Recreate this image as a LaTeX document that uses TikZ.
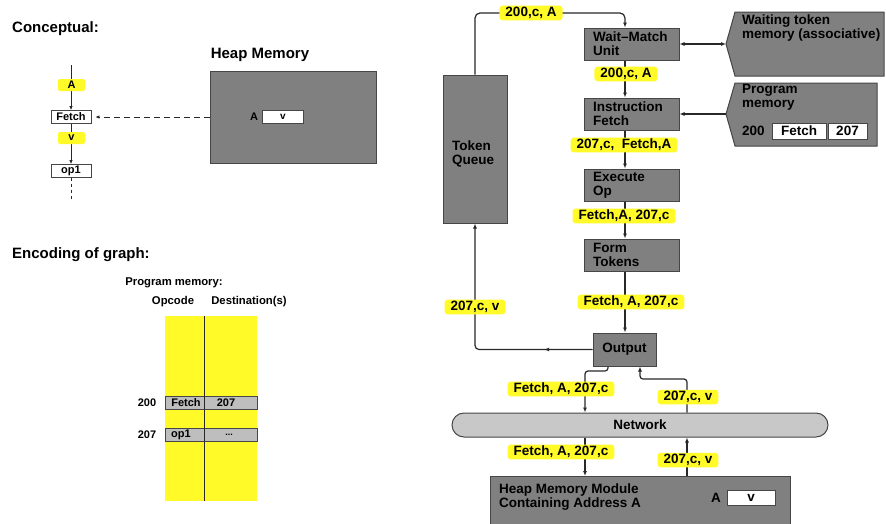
\documentclass[tikz,border=0pt]{standalone}
\usepackage{fontspec}
\setmainfont{Liberation Sans}
\usetikzlibrary{arrows.meta,decorations.markings,calc}
\definecolor{boxgray}{RGB}{128,128,128}
\definecolor{edgegray}{RGB}{70,70,70}
\definecolor{hlyellow}{RGB}{255,250,40}
\definecolor{netgray}{RGB}{200,200,200}
\definecolor{rowgray}{RGB}{190,190,190}
\definecolor{linecol}{RGB}{40,40,40}
\begin{document}
\begin{tikzpicture}[x=1pt,y=-1pt,
  line/.style={draw=linecol, line width=1.2pt},
  arr/.style={line, -{Latex[length=5pt,width=4pt]}},
  sarr/.style={draw=linecol, line width=1pt, -{Latex[length=4pt,width=3.5pt]}},
  gbox/.style={draw=edgegray, fill=boxgray, line width=1pt, inner sep=0pt},
  wbox/.style={draw=edgegray, fill=white, line width=0.8pt, inner sep=0pt},
  ptext/.style={font=\fontsize{13.5}{14}\bfseries\selectfont, align=left, inner sep=0pt},
  stext/.style={font=\fontsize{11.3}{13}\bfseries\selectfont, inner sep=0pt},
  ttext/.style={font=\fontsize{15}{17}\bfseries\selectfont, inner sep=0pt},
  ylab/.style={fill=hlyellow, rounded corners=3pt, inner xsep=6pt, inner ysep=1.5pt, font=\fontsize{13.5}{14}\bfseries\selectfont},
  cyl/.style={fill=hlyellow, rounded corners=2pt, inner sep=0pt, minimum width=27pt, minimum height=12pt, font=\fontsize{11}{12}\bfseries\selectfont},
  stage/.style={gbox, ptext, minimum width=95pt, minimum height=32pt, text width=77pt},
  midarrow/.style={postaction={decorate}, decoration={markings, mark=at position #1 with {\arrow{Latex[length=5pt,width=4pt]}}}}
]
\useasboundingbox[fill=white] (0,0) rectangle (886,523);

% ---------------- Conceptual ----------------
\node[ttext, anchor=west] (tconc) at (12,29) {Conceptual:};
\node[ttext] (theap) at (260,55) {Heap Memory};
\node[gbox, minimum width=166pt, minimum height=92pt] (heap) at (293,117) {};
\node[stext, font=\fontsize{11}{12}\bfseries\selectfont] (heapA) at (254,117) {A};
\node[wbox, minimum width=41pt, minimum height=13pt, font=\fontsize{10}{12}\bfseries\selectfont] (heapv) at (283,117) {v};

\coordinate (ctop) at (71,65);
\coordinate (cbot) at (71,200);
\node[wbox, minimum width=40pt, minimum height=13pt, font=\fontsize{11}{12}\bfseries\selectfont] (cf) at (71,117) {Fetch};
\node[wbox, minimum width=40pt, minimum height=13pt, font=\fontsize{11}{12}\bfseries\selectfont] (cop) at (71,171) {op1};
\draw[sarr] (ctop) -- (cf.north);
\draw[sarr] (cf.south) -- (cop.north);
\draw[draw=linecol, line width=1pt, dashed] (cop.south) -- (cbot);
\node[cyl] (la) at (71.5,85) {A};
\node[cyl] (lv) at (71.5,138) {v};
\draw[sarr, dash pattern=on 6pt off 4pt, shorten >=4pt] (heap.west) -- (cf.east);

% ---------------- Encoding ----------------
\node[ttext, anchor=west] (tenc) at (12,255) {Encoding of graph:};
\node[stext] (tpm) at (174,283) {Program memory:};
\node[stext] (topc) at (173,302) {Opcode};
\node[stext] (tdst) at (249,302) {Destination(s)};
\node[fill=hlyellow, minimum width=92pt, minimum height=185pt, inner sep=0pt] (pmem) at (211,408.5) {};
\node[draw=edgegray, fill=rowgray, line width=0.8pt, minimum width=92pt, minimum height=13pt, inner sep=0pt] (r1) at (211,402.5) {};
\node[draw=edgegray, fill=rowgray, line width=0.8pt, minimum width=92pt, minimum height=13pt, inner sep=0pt] (r2) at (211,435) {};
\coordinate (div) at (204,0);
\draw[draw=linecol, line width=1pt] (div |- pmem.north) -- (div |- pmem.south);
\node[stext, font=\fontsize{11}{12}\bfseries\selectfont] (a200) at (147,402.5) {200};
\node[stext, font=\fontsize{11}{12}\bfseries\selectfont] (r1a) at (186,402.5) {Fetch};
\node[stext, font=\fontsize{11}{12}\bfseries\selectfont] (r1b) at (226,402.5) {207};
\node[stext, font=\fontsize{11}{12}\bfseries\selectfont] (a207) at (147,435) {207};
\node[stext, font=\fontsize{11}{12}\bfseries\selectfont] (r2a) at (181,435) {op1};
\node[stext, font=\fontsize{9}{12}\bfseries\selectfont] (r2b) at (229,435) {...};

% ---------------- Pipeline ----------------
\node[gbox, minimum width=64pt, minimum height=148pt] (tq) at (475,149) {};
\node[ptext, anchor=west] (tqtext) at (452,154) {Token\\Queue};
\node[stage] (wm) at (631.5,44) {Wait--Match\\Unit};
\node[stage] (if) at (631.5,114) {Instruction\\Fetch};
\node[stage] (ex) at (631.5,185) {Execute\\Op};
\node[stage] (ft) at (631.5,255) {Form\\Tokens};
\node[gbox, ptext, minimum width=63pt, minimum height=33pt] (out) at (624.5,349.5) {Output};

\coordinate (cx) at (625,0);
\draw[arr, rounded corners=5pt] (tq.north) |- (cx |- 0,13) -- (cx |- wm.north);
\draw[arr] (cx |- wm.south) -- (cx |- if.north);
\draw[arr] (cx |- if.south) -- (cx |- ex.north);
\draw[arr] (cx |- ex.south) -- (cx |- ft.north);
\draw[arr] (cx |- ft.south) -- (cx |- out.north);
\draw[arr, rounded corners=4pt, midarrow=0.2] (out.west) -| (tq.south);

% side memories
\draw[gbox] (735,12) -- (884,12) -- (884,76) -- (735,76) -- (726,44) -- cycle;
\coordinate (wtmtip) at (726,44);
\node[ptext, anchor=west] (wtmtext) at (742,28) {Waiting token\\memory (associative)};
\draw[line, {Latex[length=5pt,width=4pt]}-{Latex[length=5pt,width=4pt]}] (wm.east) -- (wtmtip);

\draw[gbox] (735,83) -- (877,83) -- (877,146) -- (735,146) -- (726,114) -- cycle;
\coordinate (pmtip) at (726,114);
\node[ptext, anchor=west] (pmtext) at (742,97) {Program\\memory};
\node[ptext, anchor=west] (pm200) at (742,131) {200};
\node[wbox, ptext, minimum width=54pt, minimum height=16pt] (pmf) at (799,131) {Fetch};
\node[wbox, ptext, minimum width=39pt, minimum height=16pt] (pm207) at (847.5,131) {207};
\draw[arr] (pmtip) -- (if.east);

% network and heap module
\node[draw=edgegray, fill=netgray, line width=1pt, rounded corners=12pt, minimum width=376pt, minimum height=24pt, inner sep=0pt, font=\fontsize{13.5}{14}\bfseries\selectfont] (net) at (640,425) {Network};
\node[gbox, minimum width=300pt, minimum height=52pt, anchor=north west] (hm) at (490,476) {};
\node[ptext, anchor=west] (hmtext) at (499,497) {Heap Memory Module\\Containing Address A};
\node[ptext] (hmA) at (716,498) {A};
\node[wbox, ptext, minimum width=48pt, minimum height=15pt] (hmv) at (751,498) {v};

\coordinate (dn) at (585,0);
\coordinate (up) at (687,0);
\coordinate (ret) at (640,0);
\coordinate (lft) at (608,0);
\draw[arr, rounded corners=3pt] (lft |- out.south) -- (lft |- 0,371) -- (dn |- 0,371) -- (dn |- net.north);
\draw[arr, rounded corners=3pt] (up |- net.north) -- (up |- 0,379) -- (ret |- 0,379) -- (ret |- out.south);
\draw[arr] (dn |- net.south) -- (dn |- hm.north);
\draw[arr] (up |- hm.north) -- (up |- net.south);

% labels
\node[ylab] (l1) at (531,13) {200,c, A};
\node[ylab] (l2) at (626,74) {200,c, A};
\node[ylab] (l3) at (624,145) {207,c,\ \ Fetch,A};
\node[ylab] (l4) at (624,216) {Fetch,A, 207,c};
\node[ylab] (l5) at (631,302) {Fetch, A, 207,c};
\node[ylab] (l6) at (475,307) {207,c, v};
\node[ylab] (l7) at (561,389) {Fetch, A, 207,c};
\node[ylab] (l8) at (688,397) {207,c, v};
\node[ylab] (l9) at (561,452) {Fetch, A, 207,c};
\node[ylab] (l10) at (688,460) {207,c, v};
\end{tikzpicture}
\end{document}
